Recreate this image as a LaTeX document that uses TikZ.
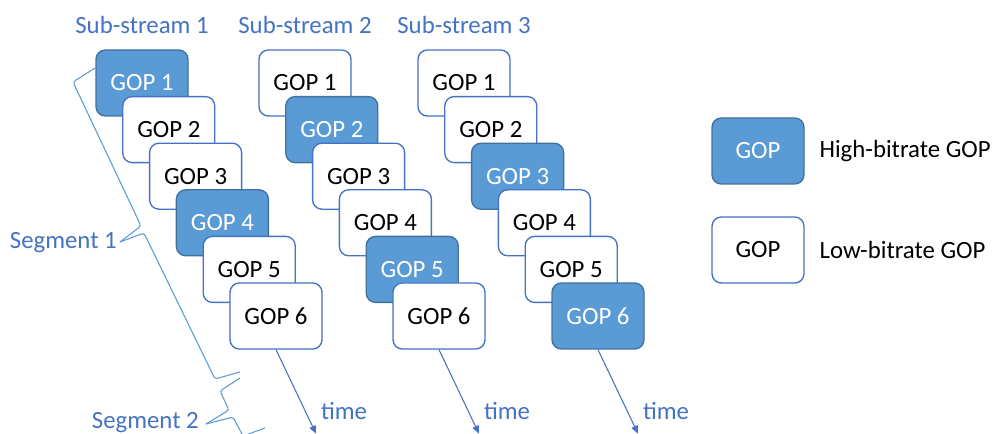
\documentclass[tikz,border=0pt]{standalone}
\usepackage{fontspec}
\setmainfont{Carlito}
\usetikzlibrary{arrows.meta,positioning,calc}

\definecolor{hiblue}{HTML}{5B9BD5}
\definecolor{hiedge}{HTML}{41719C}
\definecolor{loedge}{HTML}{4472C4}
\definecolor{txtblue}{HTML}{4472C4}

\begin{document}
\begin{tikzpicture}[x=0.75pt, y=-0.75pt,
    every node/.style={font=\fontsize{18.6}{22}\selectfont},
    gop/.style={draw=loedge, fill=white, line width=1pt, rounded corners=7pt,
                minimum width=69pt, minimum height=49.5pt, inner sep=0pt},
    higop/.style={gop, draw=hiedge, fill=hiblue, text=white},
    bluetext/.style={text=txtblue, inner sep=0pt},
    brace/.style={draw=hiblue, line width=0.8pt, rounded corners=2pt},
    timearrow/.style={draw=loedge, line width=0.8pt, -{Triangle[length=6pt,width=5pt]}}]
    \useasboundingbox (0,0) rectangle (993,434);

    % sub-streams with their GOPs and time axes
    \foreach \s/\dx in {1/0, 2/163, 3/322} {
        \node[bluetext] (sub\s) at (142+\dx,25) {Sub-stream \s};
        \foreach \g in {1,...,6} {
            \pgfmathtruncatemacro\ishigh{mod(\g-\s,3)==0 ? 1 : 0}
            \ifnum\ishigh=1 \def\gopstyle{higop}\else\def\gopstyle{gop}\fi
            \node[\gopstyle] (s\s g\g) at (142+\dx+26.8*\g-26.8, 83+46.6*\g-46.6) {GOP \g};
        }
        \coordinate (t\s) at ($(s\s g6.south)+(40,84)$);
        \draw[timearrow] (s\s g6.south) -- (t\s);
        \node[bluetext] (time\s) at ($(s\s g6.south)+(68,61)$) {time};
    }

    % legend
    \node[higop] (leghigh) at (758,151) {GOP};
    \node[gop] (leglow) at (758,250) {GOP};
    \node[right=11pt of leghigh, inner sep=0pt] (leghightext) {High-bitrate GOP};
    \node[right=11pt of leglow, inner sep=0pt] (leglowtext) {Low-bitrate GOP};

    % segments
    \coordinate (b1tip) at (120,242);
    \coordinate (b2tip) at (206,424);
    \node[bluetext, anchor=east] (seg1) at ($(b1tip)+(-3,1)$) {Segment 1};
    \node[bluetext, anchor=east] (seg2) at ($(b2tip)+(-7,-1)$) {Segment 2};
    \draw[brace] (95,68) -- (73,82) -- (141,226) -- (b1tip);
    \draw[brace] (b1tip) -- (144,233) -- (215,379) -- (240,372);
    \draw[brace] (240,378) -- (220,391) -- (229,410) -- (b2tip);
    \draw[brace] (b2tip) -- (233,417) -- (243,436) -- (265,428);
\end{tikzpicture}
\end{document}
